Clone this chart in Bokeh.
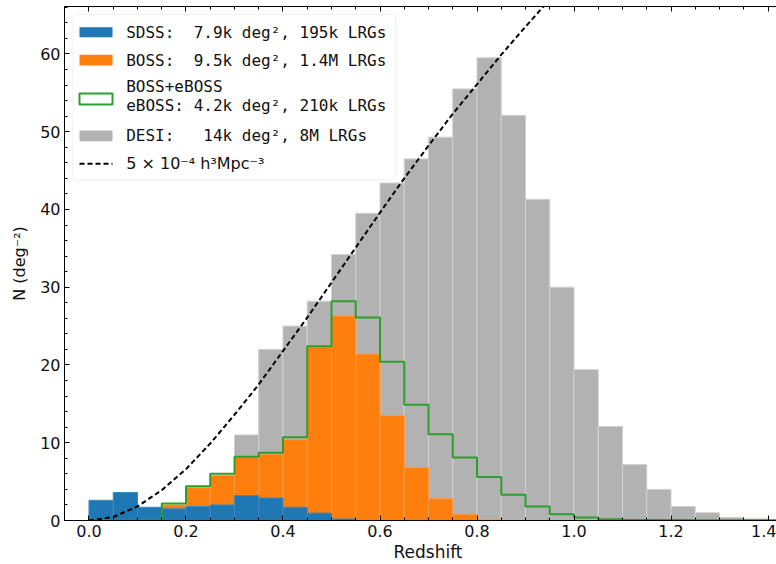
from bokeh.plotting import figure
from bokeh.models import (Range1d, LinearAxis, SingleIntervalTicker, NumeralTickFormatter,
                          BoxAnnotation, Label, Arrow, Title)
from bokeh.embed import file_html
from bokeh.resources import INLINE

# ---------------- data ----------------
bin_left = [0.00, 0.05, 0.10, 0.15, 0.20, 0.25, 0.30, 0.35, 0.40, 0.45,
            0.50, 0.55, 0.60, 0.65, 0.70, 0.75, 0.80, 0.85, 0.90, 0.95,
            1.00, 1.05, 1.10, 1.15, 1.20, 1.25, 1.30, 1.35, 1.40]
bin_width = 0.05

desi = [0, 0, 0, 0, 1.0, 3.5, 11.0, 22.0, 25.0, 28.2,
        34.2, 39.5, 43.4, 46.5, 49.3, 55.5, 59.5, 52.1, 41.3, 30.0,
        19.4, 12.1, 7.2, 4.0, 1.8, 1.0, 0.4, 0.2, 0.1]
boss = [0, 0, 0, 2.0, 4.2, 5.8, 8.1, 8.5, 10.4, 22.3,
        26.3, 21.4, 13.5, 6.8, 2.8, 0.8, 0.15, 0, 0, 0,
        0, 0, 0, 0, 0, 0, 0, 0, 0]
boss_eboss = [0, 0, 0, 2.2, 4.4, 6.0, 8.2, 8.7, 10.7, 22.4,
              28.2, 26.1, 20.4, 14.9, 11.1, 8.1, 5.6, 3.3, 1.8, 0.8,
              0.4, 0.15, 0.08, 0.05, 0.05, 0.03, 0.03, 0.02, 0.02]
sdss = [2.6, 3.6, 1.7, 1.5, 1.8, 2.0, 3.2, 2.9, 1.7, 0.95,
        0.2, 0, 0, 0, 0, 0, 0, 0, 0, 0,
        0, 0, 0, 0, 0, 0, 0, 0, 0]

# number density 5e-4 h^3 Mpc^-3 expressed as N per deg^2 per 0.05 bin
curve_z = [0.00, 0.05, 0.10, 0.15, 0.20, 0.25, 0.30, 0.35, 0.40, 0.45,
           0.50, 0.55, 0.60, 0.65, 0.70, 0.75, 0.80, 0.85, 0.90, 0.95]
curve_n = [0.0, 0.45, 1.8, 3.9, 6.6, 9.9, 13.6, 17.5, 21.8, 26.1,
           30.6, 35.1, 39.6, 44.0, 48.2, 52.3, 56.1, 59.9, 63.5, 67.0]

NB = "\u00a0"
legend_labels = ["SDSS: " + NB + "7.9k deg\u00b2, 195k LRGs",
                 "BOSS: " + NB + "9.5k deg\u00b2, 1.4M LRGs",
                 "BOSS+eBOSS",
                 "eBOSS: 4.2k deg\u00b2, 210k LRGs",
                 "DESI: " + NB + NB + "14k deg\u00b2, 8M LRGs",
                 "5 \u00d7 10\u207b\u2074 h\u00b3Mpc\u207b\u00b3"]
x_label = "Redshift"
y_label = "N (deg\u207b\u00b2)"

x_ticks_interval = 0.2
y_ticks_interval = 10

# ---------------- figure ----------------
W, H = 776, 564
FL, FT, FB = 64, 6, 520  # frame left / top / bottom in canvas pixels

p = figure(width=W, height=H, output_backend="svg", toolbar_location=None,
           x_range=Range1d(-0.0505, 1.4175), y_range=Range1d(0, 66.1),
           min_border_left=FL, min_border_right=0, min_border_top=FT,
           min_border_bottom=H - FB)
p.grid.visible = False
p.outline_line_color = None
p.background_fill_color = "white"
p.border_fill_color = "white"


def bars(vals):
    L = [b for b, v in zip(bin_left, vals) if v > 0]
    R = [b + bin_width for b, v in zip(bin_left, vals) if v > 0]
    T = [v for v in vals if v > 0]
    return L, R, T


L, R, T = bars(desi)
p.quad(left=L, right=R, bottom=0, top=T, fill_color="#b2b2b2",
       line_color="#d0d0d0", line_width=1)
L, R, T = bars(boss)
p.quad(left=L, right=R, bottom=0, top=T, fill_color="#ff7f0e",
       line_color="#ff9a40", line_width=1)
L, R, T = bars(sdss)
p.quad(left=L, right=R, bottom=0, top=T, fill_color="#1f77b4",
       line_color="#3a8ac2", line_width=1)

# step outline for BOSS+eBOSS
sx = [bin_left[0]]
sy = [0]
for b, v in zip(bin_left, boss_eboss):
    sx += [b, b + bin_width]
    sy += [v, v]
sx.append(bin_left[-1] + bin_width)
sy.append(0)
p.line(sx, sy, line_color="#2ca02c", line_width=2)

p.line(curve_z, curve_n, line_color="black", line_width=2, line_dash="5 3")

# ---------------- axes ----------------
tick_font = "DejaVu Sans"
for ax in (p.xaxis[0], p.yaxis[0]):
    ax.major_tick_in = 5
    ax.major_tick_out = 0
    ax.minor_tick_in = 3
    ax.minor_tick_out = 0
    ax.axis_line_color = "black"
    ax.major_tick_line_color = "black"
    ax.minor_tick_line_color = "black"
    ax.major_label_text_font = tick_font
    ax.major_label_text_font_size = "16px"
    ax.major_label_text_color = "#111111"
    ax.axis_label_text_font = tick_font
    ax.axis_label_text_font_size = "16px"
    ax.axis_label_text_font_style = "normal"
    ax.axis_label_text_color = "#111111"

p.xaxis[0].ticker = SingleIntervalTicker(interval=x_ticks_interval, num_minor_ticks=4)
p.xaxis[0].formatter = NumeralTickFormatter(format="0.0")
p.xaxis[0].major_label_standoff = 4

p.yaxis[0].ticker = SingleIntervalTicker(interval=y_ticks_interval, num_minor_ticks=5)
p.yaxis[0].axis_label = y_label
p.yaxis[0].major_label_standoff = 4
p.yaxis[0].axis_label_standoff = 8

top = LinearAxis(ticker=SingleIntervalTicker(interval=x_ticks_interval, num_minor_ticks=4),
                 major_label_text_font_size="0px", major_label_text_color=None,
                 major_tick_in=5, major_tick_out=0,
                 minor_tick_in=3, minor_tick_out=0, major_label_standoff=0)
p.add_layout(top, "above")

# x-axis title: the reference frame continues past the window, so its title sits right of centre
p.add_layout(Title(text=x_label, align="left", offset=329, standoff=0,
                   text_font=tick_font, text_font_size="17px", text_font_style="normal",
                   text_color="#111111"), "below")


# ---------------- screen-space helpers (relative to the frame) ----------------
def fx(px):
    return px - FL


def fy(py):
    return FB - py


# ---------------- legend ----------------
p.add_layout(BoxAnnotation(left=fx(72.5), right=fx(395), top=fy(14), bottom=fy(179.5),
                           left_units="screen", right_units="screen",
                           top_units="screen", bottom_units="screen",
                           fill_color="white", fill_alpha=0.85,
                           line_color="#cccccc", line_width=1, border_radius=4))

sw_l, sw_r = 79, 112
swatches = [(26.7, 36.7, "#1f77b4", None), (54.3, 65.0, "#ff7f0e", None),
            (93.0, 104.0, None, "#2ca02c"), (130.0, 140.7, "#b2b2b2", None)]
for t, b, fc, lc in swatches:
    p.add_layout(BoxAnnotation(left=fx(sw_l), right=fx(sw_r), top=fy(t), bottom=fy(b),
                               left_units="screen", right_units="screen",
                               top_units="screen", bottom_units="screen",
                               fill_color=fc, fill_alpha=1 if fc else 0,
                               line_color=lc, line_width=2 if lc else 0,
                               line_alpha=1 if lc else 0))

p.add_layout(Arrow(end=None, x_start=fx(sw_l), x_end=fx(sw_r), y_start=fy(163.3), y_end=fy(163.3),
                   start_units="screen", end_units="screen",
                   line_color="black", line_width=2, line_dash="5 3"))

label_y = [31.7, 60.0, 86.0, 105.0, 135.0, 163.0]
for i, (txt, yy) in enumerate(zip(legend_labels, label_y)):
    p.add_layout(Label(x=fx(125.7), y=fy(yy), x_units="screen", y_units="screen",
                       text=txt, text_font="DejaVu Sans Mono" if i < 5 else "DejaVu Sans",
                       text_font_size="16px", text_baseline="middle", text_align="left",
                       text_color="#111111"))

open("out.html", "w").write(file_html(p, INLINE))
